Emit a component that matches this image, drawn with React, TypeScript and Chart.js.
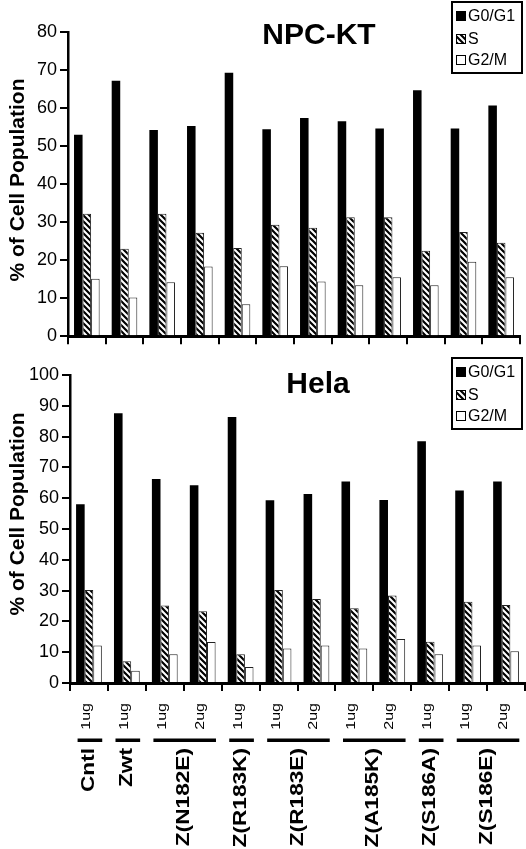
import React, { useEffect, useRef } from 'react';
import { Chart, registerables } from 'chart.js';

Chart.register(...registerables);

const FONT = '"Liberation Sans", Arial, Helvetica, sans-serif';

// Categories
const doseLabels = ['1ug', '1ug', '1ug', '2ug', '1ug', '1ug', '2ug', '1ug', '2ug', '1ug', '1ug', '2ug'];
const groupNames = ['Cntl', 'Zwt', 'Z(N182E)', 'Z(R183K)', 'Z(R183E)', 'Z(A185K)', 'Z(S186A)', 'Z(S186E)'];
const groupSizes = [1, 1, 2, 1, 2, 2, 1, 2];
const seriesNames = ['G0/G1', 'S', 'G2/M'];

// NPC-KT values (% of cell population)
const npcG0G1 = [53, 67.2, 54.2, 55.3, 69.3, 54.4, 57.4, 56.5, 54.6, 64.7, 54.6, 60.7];
const npcS = [32.2, 23, 32.2, 27.2, 23.2, 29.3, 28.5, 31.3, 31.3, 22.5, 27.4, 24.6];
const npcG2M = [15.1, 10.2, 14.2, 18.3, 8.4, 18.4, 14.4, 13.4, 15.5, 13.4, 19.6, 15.5];

// Hela values
const helaG0G1 = [58, 87.6, 66.2, 64.2, 86.4, 59.3, 61.4, 65.4, 59.4, 78.5, 62.5, 65.4];
const helaS = [30.2, 7.1, 25.2, 23.3, 9.3, 30.2, 27.3, 24.3, 28.4, 13.4, 26.4, 25.3];
const helaG2M = [12.2, 4, 9.3, 13.3, 5.2, 11.2, 12.2, 11.2, 14.3, 9.3, 12.2, 10.3];

// Axis ranges / ticks
const npcYMax = 80;
const helaYMax = 100;
const yStep = 10;
const yAxisTitle = '% of Cell Population';

// Build category list from the groups
const categories: string[] = [];
{
  let k = 0;
  groupNames.forEach((g, gi) => {
    for (let j = 0; j < groupSizes[gi]; j++) {
      categories.push(g + ' ' + doseLabels[k]);
      k++;
    }
  });
}

function makeHatch(): any {
  const c = document.createElement('canvas');
  c.width = 6;
  c.height = 6;
  const g = c.getContext('2d')!;
  g.fillStyle = '#fff';
  g.fillRect(0, 0, 6, 6);
  g.strokeStyle = '#000';
  g.lineWidth = 2.2;
  g.beginPath();
  g.moveTo(-1, -1);
  g.lineTo(7, 7);
  g.moveTo(-1, 5);
  g.lineTo(1, 7);
  g.moveTo(5, -1);
  g.lineTo(7, 1);
  g.stroke();
  return g.createPattern(c, 'repeat');
}

const decoPlugin = {
  id: 'deco',
  afterDraw(chart: any, _args: any, opts: any) {
    const ctx = chart.ctx;
    ctx.save();
    ctx.fillStyle = '#000';
    // Title inside the plot
    ctx.font = `bold 30px ${FONT}`;
    ctx.textAlign = 'center';
    ctx.textBaseline = 'middle';
    ctx.fillText(opts.title, opts.titleX, opts.titleY);

    // Y axis title
    ctx.save();
    ctx.translate(opts.yTitleX, opts.yTitleY);
    ctx.rotate(-Math.PI / 2);
    ctx.font = `bold 21px ${FONT}`;
    ctx.textAlign = 'center';
    ctx.textBaseline = 'middle';
    ctx.fillText(yAxisTitle, 0, 0);
    ctx.restore();

    // Legend box
    const lx = opts.legendX;
    const ly = opts.legendY;
    ctx.fillStyle = '#fff';
    ctx.fillRect(lx, ly, 70, 71);
    ctx.lineWidth = 2;
    ctx.strokeStyle = '#000';
    ctx.strokeRect(lx, ly, 70, 71);
    const rows = [14, 37, 58];
    chart.data.datasets.forEach((ds: any, i: number) => {
      const cy = ly + rows[i];
      ctx.fillStyle = ds.backgroundColor;
      ctx.fillRect(lx + 4, cy - 5, 10, 10);
      if (i > 0) {
        ctx.lineWidth = 1;
        ctx.strokeStyle = '#000';
        ctx.strokeRect(lx + 4.5, cy - 4.5, 9, 9);
      }
      ctx.fillStyle = '#000';
      ctx.font = `16px ${FONT}`;
      ctx.textAlign = 'left';
      ctx.textBaseline = 'middle';
      ctx.fillText(ds.label, lx + 16, cy + 1);
    });

    // X category labels (bottom chart only)
    if (opts.xLabels) {
      const xs = chart.scales.x;
      const base = chart.chartArea.bottom;
      const w = xs.getPixelForValue(1) - xs.getPixelForValue(0);
      doseLabels.forEach((lab, i) => {
        const px = xs.getPixelForValue(i);
        ctx.save();
        ctx.translate(px + 1, base + 20);
        ctx.rotate(-Math.PI / 2);
        ctx.scale(1, 0.85);
        ctx.font = `16px ${FONT}`;
        ctx.fillStyle = '#000';
        ctx.textAlign = 'right';
        ctx.textBaseline = 'alphabetic';
        ctx.fillText(lab, 0, 0);
        ctx.restore();
      });
      let k = 0;
      groupNames.forEach((name, gi) => {
        const first = xs.getPixelForValue(k);
        const last = xs.getPixelForValue(k + groupSizes[gi] - 1);
        k += groupSizes[gi];
        ctx.fillStyle = '#000';
        const x0 = first - 0.3 * w;
        const x1 = last + 0.35 * w;
        ctx.fillRect(x0, base + 55.5, x1 - x0, 3.5);
        ctx.save();
        ctx.translate((first + last) / 2, base + 65);
        ctx.rotate(-Math.PI / 2);
        ctx.scale(1.03, 0.85);
        ctx.font = `bold 22px ${FONT}`;
        ctx.textAlign = 'right';
        ctx.textBaseline = 'middle';
        ctx.fillText(name, 0, 0);
        ctx.restore();
      });
    }
    ctx.restore();
  },
};

function makeChart(canvas: HTMLCanvasElement, p: any) {
  const hatch = makeHatch();
  return new Chart(canvas, {
    type: 'bar',
    data: {
      labels: categories,
      datasets: [
        { label: seriesNames[0], data: p.g0, backgroundColor: '#000', borderWidth: 0 },
        { label: seriesNames[1], data: p.s, backgroundColor: hatch, borderColor: '#222', borderWidth: 1 },
        { label: seriesNames[2], data: p.g2, backgroundColor: '#fff', borderColor: '#222', borderWidth: 1 },
      ],
    },
    options: {
      responsive: false,
      animation: false,
      devicePixelRatio: 1,
      layout: { padding: { top: p.padTop, right: p.padRight, left: 0, bottom: 0 } },
      datasets: { bar: { categoryPercentage: 0.68, barPercentage: 1.0 } },
      plugins: {
        legend: { display: false },
        tooltip: { enabled: false },
        deco: p.deco,
      } as any,
      scales: {
        x: {
          offset: true,
          grid: {
            offset: true,
            drawOnChartArea: false,
            drawTicks: true,
            tickLength: 8,
            color: '#000',
            lineWidth: 2,
          },
          border: { display: true, color: '#000', width: 3 },
          ticks: { display: false },
          afterFit: (s: any) => {
            s.height = p.xHeight;
          },
        },
        y: {
          min: 0,
          max: p.yMax,
          grid: {
            drawOnChartArea: false,
            drawTicks: true,
            tickLength: 8,
            color: '#000',
            lineWidth: 2,
          },
          border: { display: true, color: '#000', width: 2.5 },
          ticks: {
            stepSize: yStep,
            color: '#000',
            padding: 3,
            font: { size: 18, family: FONT },
          },
          afterFit: (s: any) => {
            s.width = p.yWidth;
          },
        },
      },
    } as any,
    plugins: [decoPlugin as any],
  });
}

export default function App() {
  const topRef = useRef<HTMLCanvasElement>(null);
  const botRef = useRef<HTMLCanvasElement>(null);

  useEffect(() => {
    const c1 = makeChart(topRef.current!, {
      g0: npcG0G1,
      s: npcS,
      g2: npcG2M,
      yMax: npcYMax,
      padTop: 32,
      padRight: 6,
      yWidth: 68,
      xHeight: 12,
      deco: {
        title: 'NPC-KT',
        titleX: 319,
        titleY: 36,
        yTitleX: 18,
        yTitleY: 180,
        legendX: 452,
        legendY: 2,
        xLabels: false,
      },
    });
    const c2 = makeChart(botRef.current!, {
      g0: helaG0G1,
      s: helaS,
      g2: helaG2M,
      yMax: helaYMax,
      padTop: 25,
      padRight: 1,
      yWidth: 70,
      xHeight: 166,
      deco: {
        title: 'Hela',
        titleX: 318,
        titleY: 35,
        yTitleX: 18,
        yTitleY: 164,
        legendX: 452,
        legendY: 8,
        xLabels: true,
      },
    });
    return () => {
      c1.destroy();
      c2.destroy();
    };
  }, []);

  return (
    <div style={{ position: 'absolute', left: 0, top: 0, width: 526, height: 849, background: '#fff', overflow: 'hidden' }}>
      <canvas ref={topRef} width={526} height={350} style={{ position: 'absolute', left: 0, top: 0 }} />
      <canvas ref={botRef} width={526} height={499} style={{ position: 'absolute', left: 0, top: 350 }} />
    </div>
  );
}
